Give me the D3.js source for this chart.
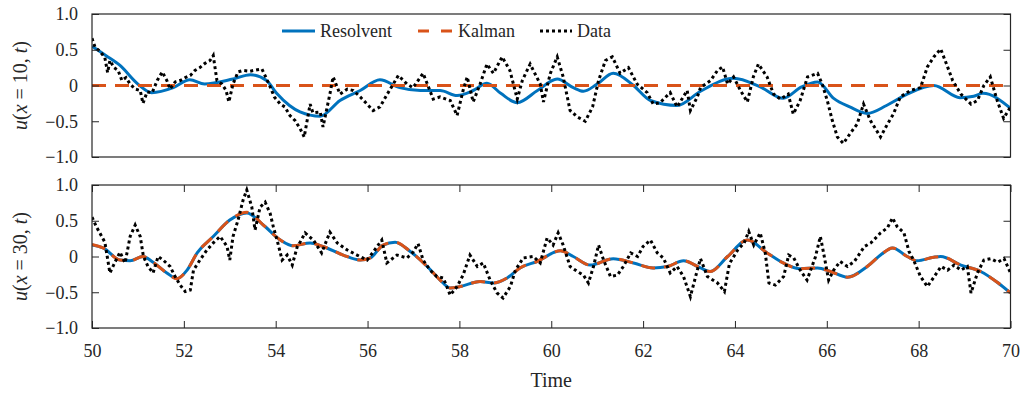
<!DOCTYPE html>
<html>
<head>
<meta charset="utf-8">
<script src="https://cdn.jsdelivr.net/npm/d3@7"></script>
<style>
  body { margin: 0; background: #fff; }
  svg { display: block; font-family: "Liberation Serif", "Times New Roman", serif; }
</style>
</head>
<body>
<script>
// ---- data ----
const xTicks = [50, 52, 54, 56, 58, 60, 62, 64, 66, 68, 70];
const yTicks = [-1, -0.5, 0, 0.5, 1];
const yTickLabels = ["\u22121.0", "\u22120.5", "0", "0.5", "1.0"];

// panel x = 10
const resolvent10 = [
  [50, 0.55], [50.3, 0.42], [50.61, 0.28], [51.0, 0.02], [51.3, -0.1], [51.77, -0.03], [52.13, 0.08],
  [52.45, 0.02], [53.07, 0.09], [53.45, 0.15], [53.8, 0.07], [54.02, -0.11], [54.3, -0.28],
  [54.53, -0.37], [54.97, -0.43], [55.4, -0.21], [55.84, -0.07], [56.27, 0.08], [56.7, -0.03],
  [57.15, -0.07], [57.58, -0.07], [57.95, -0.14], [58.3, -0.07], [58.6, 0.03], [58.9, -0.11],
  [59.26, -0.24], [59.7, -0.07], [60.13, 0.09], [60.48, -0.03], [60.7, -0.08], [61.0, 0.02],
  [61.35, 0.17], [61.79, 0.0], [62.16, -0.21], [62.74, -0.28], [63.25, -0.08], [63.97, 0.1],
  [64.55, -0.02], [65.05, -0.18], [65.45, -0.02], [65.8, 0.05], [66.15, -0.18], [66.5, -0.3],
  [66.88, -0.39], [67.3, -0.28], [67.75, -0.12], [68.33, 0.0], [68.9, -0.17], [69.2, -0.15],
  [69.4, -0.11], [70, -0.32]
];
const kalman10 = [[50, 0], [70, 0]];
const data10 = [
  [50, 0.66], [50.07, 0.53], [50.17, 0.48], [50.28, 0.39], [50.34, 0.18], [50.39, 0.35], [50.48, 0.25],
  [50.57, 0.21], [50.65, 0.07], [50.74, 0.11], [50.83, 0.02], [50.94, -0.05], [51.05, -0.07],
  [51.11, -0.25], [51.2, -0.09], [51.31, -0.1], [51.42, 0.07], [51.53, 0.19], [51.63, 0.07],
  [51.7, -0.05], [51.81, 0.05], [51.92, 0.07], [52.03, 0.11], [52.14, 0.14], [52.24, 0.21],
  [52.35, 0.25], [52.46, 0.31], [52.57, 0.35], [52.64, 0.42], [52.72, 0.07], [52.83, 0.02],
  [52.92, -0.07], [52.98, -0.23], [53.07, 0.02], [53.18, 0.19], [53.29, 0.21], [53.44, 0.2],
  [53.6, 0.22], [53.7, 0.23], [53.79, 0.11], [53.88, -0.02], [53.97, -0.16], [54.1, -0.26],
  [54.2, -0.3], [54.31, -0.42], [54.42, -0.49], [54.53, -0.6], [54.62, -0.72], [54.75, -0.26],
  [54.81, -0.38], [54.97, -0.37], [55.03, -0.58], [55.18, -0.12], [55.25, 0.12], [55.4, -0.12],
  [55.56, -0.05], [55.69, -0.07], [55.84, -0.16], [55.99, -0.26], [56.12, -0.35], [56.27, -0.3],
  [56.43, -0.12], [56.56, 0.02], [56.67, 0.14], [56.86, 0.02], [56.99, -0.03], [57.21, 0.17],
  [57.43, -0.19], [57.58, -0.16], [57.8, -0.21], [57.95, -0.42], [58.08, -0.07], [58.17, 0.12],
  [58.3, -0.23], [58.45, 0.02], [58.6, 0.3], [58.74, 0.17], [58.93, 0.4], [59.1, 0.21],
  [59.26, -0.19], [59.37, 0.07], [59.54, 0.3], [59.76, 0.02], [59.83, -0.23], [59.98, 0.17],
  [60.13, 0.4], [60.26, 0.12], [60.41, -0.35], [60.57, -0.44], [60.74, -0.5], [60.9, -0.3],
  [61.03, 0.07], [61.18, 0.35], [61.33, 0.4], [61.5, 0.17], [61.68, 0.25], [61.87, 0.02],
  [62.09, -0.1], [62.22, -0.26], [62.37, -0.24], [62.59, -0.1], [62.74, -0.3], [62.96, -0.07],
  [63.03, -0.35], [63.18, -0.16], [63.25, -0.03], [63.47, 0.07], [63.62, 0.21], [63.73, 0.26],
  [63.84, 0.02], [63.97, 0.12], [64.12, -0.07], [64.27, -0.23], [64.4, 0.12], [64.51, 0.3],
  [64.7, 0.12], [64.84, -0.12], [64.99, -0.19], [65.16, -0.12], [65.27, -0.4], [65.42, -0.21],
  [65.58, 0.12], [65.8, 0.17], [65.9, 0.02], [66.01, -0.21], [66.12, -0.49], [66.23, -0.72],
  [66.36, -0.81], [66.51, -0.67], [66.66, -0.54], [66.8, -0.26], [66.95, -0.49], [67.17, -0.72],
  [67.32, -0.54], [67.45, -0.4], [67.6, -0.16], [67.82, -0.07], [68.04, -0.03], [68.19, 0.26],
  [68.33, 0.4], [68.48, 0.51], [68.63, 0.26], [68.74, 0.07], [68.92, -0.12], [69.14, -0.26],
  [69.28, -0.21], [69.42, 0.0], [69.56, 0.12], [69.71, -0.21], [69.85, -0.46], [70, -0.3]
];

// panel x = 30
const resolvent30 = [
  [50, 0.16], [50.24, 0.12], [50.61, -0.05], [50.83, -0.06], [51.11, 0.0], [51.33, -0.08],
  [51.63, -0.23], [51.85, -0.31], [52.07, -0.19], [52.29, 0.05], [52.64, 0.28], [53.0, 0.51],
  [53.37, 0.61], [53.73, 0.44], [54.1, 0.23], [54.38, 0.15], [54.75, 0.19], [55.03, 0.14],
  [55.47, 0.02], [55.84, -0.05], [56.06, -0.02], [56.34, 0.16], [56.6, 0.2], [56.93, 0.07],
  [57.3, -0.14], [57.58, -0.33], [57.8, -0.44], [58.02, -0.42], [58.45, -0.35], [58.74, -0.37],
  [59.04, -0.3], [59.32, -0.16], [59.69, -0.07], [60.2, 0.08], [60.48, 0.0], [60.85, -0.12],
  [61.35, -0.03], [61.79, -0.09], [62.22, -0.16], [62.53, -0.14], [62.88, -0.06], [63.25, -0.16],
  [63.46, -0.21], [63.84, 0.0], [64.27, 0.23], [64.7, 0.05], [65.05, -0.09], [65.42, -0.17],
  [65.8, -0.16], [66.08, -0.21], [66.45, -0.29], [66.88, -0.14], [67.17, 0.02], [67.43, 0.12],
  [67.75, 0.0], [67.97, -0.06], [68.33, -0.01], [68.48, 0.0], [68.92, -0.12], [69.35, -0.21],
  [69.71, -0.36], [70, -0.51]
];
const kalman30 = [
  [50, 0.17], [50.24, 0.12], [50.61, -0.05], [50.83, -0.06], [51.11, 0.0], [51.33, -0.08],
  [51.63, -0.23], [51.85, -0.31], [52.07, -0.19], [52.29, 0.05], [52.64, 0.28], [53.0, 0.51],
  [53.37, 0.62], [53.73, 0.44], [54.1, 0.23], [54.38, 0.15], [54.75, 0.19], [55.03, 0.14],
  [55.47, 0.02], [55.84, -0.05], [56.06, -0.02], [56.34, 0.16], [56.6, 0.2], [56.93, 0.07],
  [57.3, -0.14], [57.58, -0.33], [57.8, -0.44], [58.02, -0.42], [58.45, -0.35], [58.74, -0.37],
  [59.04, -0.3], [59.32, -0.16], [59.69, -0.07], [60.2, 0.08], [60.48, 0.0], [60.85, -0.12],
  [61.35, -0.03], [61.79, -0.09], [62.22, -0.16], [62.53, -0.14], [62.88, -0.06], [63.25, -0.16],
  [63.46, -0.21], [63.84, 0.0], [64.27, 0.23], [64.7, 0.05], [65.05, -0.09], [65.42, -0.17],
  [65.8, -0.16], [66.08, -0.21], [66.45, -0.29], [66.88, -0.14], [67.17, 0.02], [67.43, 0.12],
  [67.75, 0.0], [67.97, -0.06], [68.33, -0.01], [68.48, 0.0], [68.92, -0.12], [69.35, -0.21],
  [69.71, -0.36], [70, -0.51]
];
const data30 = [
  [50, 0.55], [50.1, 0.41], [50.17, 0.33], [50.28, 0.2], [50.39, -0.23], [50.5, -0.08], [50.61, 0.06],
  [50.72, -0.09], [50.83, 0.28], [50.94, 0.44], [51.05, 0.28], [51.12, 0.0], [51.22, -0.14],
  [51.33, -0.23], [51.44, 0.0], [51.55, -0.05], [51.7, -0.14], [51.81, -0.28], [51.92, -0.4],
  [52.03, -0.49], [52.14, -0.47], [52.21, -0.19], [52.35, -0.05], [52.5, 0.09], [52.64, 0.19],
  [52.79, 0.28], [52.94, 0.14], [53.0, -0.05], [53.07, 0.28], [53.18, 0.51], [53.29, 0.79],
  [53.37, 0.93], [53.48, 0.69], [53.55, 0.37], [53.66, 0.69], [53.77, 0.76], [53.88, 0.6],
  [53.95, 0.41], [54.03, 0.23], [54.14, -0.05], [54.25, 0.02], [54.36, -0.12], [54.47, 0.14],
  [54.53, 0.2], [54.64, 0.33], [54.82, 0.23], [55.0, 0.05], [55.18, 0.34], [55.34, 0.19],
  [55.56, 0.09], [55.77, 0.02], [55.99, -0.05], [56.12, 0.06], [56.31, 0.23], [56.42, -0.09],
  [56.64, 0.02], [56.86, -0.02], [56.99, 0.06], [57.1, 0.18], [57.21, -0.05], [57.36, -0.19],
  [57.51, -0.28], [57.65, -0.3], [57.8, -0.54], [57.95, -0.42], [58.08, -0.26], [58.23, 0.02],
  [58.39, -0.14], [58.52, -0.09], [58.67, -0.33], [58.82, -0.51], [58.95, -0.58], [59.11, -0.42],
  [59.22, -0.19], [59.39, -0.02], [59.61, 0.0], [59.76, -0.09], [59.91, 0.26], [60.04, 0.16],
  [60.15, 0.33], [60.26, 0.16], [60.41, -0.14], [60.57, -0.21], [60.7, -0.26], [60.81, -0.37],
  [60.92, -0.14], [61.03, 0.16], [61.14, -0.05], [61.29, -0.28], [61.44, -0.26], [61.57, -0.14],
  [61.73, 0.05], [61.88, 0.0], [62.0, 0.14], [62.16, 0.23], [62.31, 0.05], [62.44, -0.02],
  [62.59, -0.23], [62.74, -0.14], [62.88, -0.28], [63.03, -0.56], [63.18, -0.19], [63.25, -0.03],
  [63.4, -0.28], [63.62, -0.37], [63.77, -0.49], [63.88, -0.1], [64.06, 0.09], [64.2, 0.19],
  [64.3, 0.35], [64.41, 0.16], [64.55, 0.33], [64.66, 0.05], [64.74, -0.37], [64.88, -0.4],
  [65.06, -0.28], [65.17, 0.02], [65.28, -0.02], [65.42, -0.19], [65.57, -0.33], [65.75, -0.01],
  [65.86, 0.28], [65.93, 0.05], [66.04, -0.33], [66.15, -0.19], [66.29, -0.07], [66.45, -0.14],
  [66.6, -0.07], [66.82, 0.14], [66.96, 0.19], [67.17, 0.33], [67.32, 0.4], [67.43, 0.54],
  [67.53, 0.42], [67.68, 0.33], [67.79, 0.07], [67.89, -0.05], [68.04, -0.28], [68.19, -0.42],
  [68.34, -0.28], [68.49, -0.14], [68.63, -0.19], [68.77, -0.12], [68.92, -0.19], [69.06, -0.14],
  [69.14, -0.51], [69.28, -0.23], [69.42, -0.05], [69.57, -0.03], [69.72, -0.08], [69.86, -0.03],
  [70, -0.23]
];

const options = {
  width: 1024,
  height: 395,
  left: 92,
  right: 1010.5,
};

const colors = { resolvent: "#0072BD", kalman: "#D95319", data: "#000" };

const svg = d3.select("body")
  .append("svg")
  .attr("width", options.width)
  .attr("height", options.height);

const x = d3.scaleLinear().domain([50, 70]).range([options.left, options.right]);

const panels = [
  { top: 14, bottom: 157, label: "10", res: resolvent10, kal: kalman10, dat: data10, xticks: false },
  { top: 185, bottom: 328, label: "30", res: resolvent30, kal: kalman30, dat: data30, xticks: true },
];

panels.forEach((p, pi) => {
  const y = d3.scaleLinear().domain([-1, 1]).range([p.bottom, p.top]);
  const g = svg.append("g");

  g.append("clipPath").attr("id", "clip" + pi)
    .append("rect")
    .attr("x", options.left).attr("y", p.top)
    .attr("width", options.right - options.left).attr("height", p.bottom - p.top);

  const smooth = d3.line().x(d => x(d[0])).y(d => y(d[1])).curve(d3.curveMonotoneX);
  const raw = d3.line().x(d => x(d[0])).y(d => y(d[1]));

  const plot = g.append("g").attr("clip-path", `url(#clip${pi})`);

  plot.append("path").datum(p.res)
    .attr("d", smooth)
    .attr("fill", "none").attr("stroke", colors.resolvent).attr("stroke-width", 3);

  plot.append("path").datum(p.kal)
    .attr("d", smooth)
    .attr("fill", "none").attr("stroke", colors.kalman).attr("stroke-width", 3)
    .attr("stroke-dasharray", "14,9");

  plot.append("path").datum(p.dat)
    .attr("d", raw)
    .attr("fill", "none").attr("stroke", colors.data).attr("stroke-width", 3)
    .attr("stroke-dasharray", "3,3");

  // left axis, ticks inside
  const yl = g.append("g").attr("transform", `translate(${options.left},0)`)
    .call(d3.axisLeft(y).tickValues(yTicks).tickSize(-7).tickPadding(14)
      .tickFormat((d, i) => yTickLabels[i]));
  const yr = g.append("g").attr("transform", `translate(${options.right},0)`)
    .call(d3.axisRight(y).tickValues(yTicks).tickSize(-7).tickFormat(""));
  [yl, yr].forEach(a => {
    a.select(".domain").remove();
    a.selectAll(".tick line").attr("stroke", "#262626");
    a.selectAll("text").attr("font-size", 18).attr("fill", "#262626")
      .attr("font-family", "Liberation Serif");
  });

  if (p.xticks) {
    const xb = g.append("g").attr("transform", `translate(0,${p.bottom})`)
      .call(d3.axisBottom(x).tickValues(xTicks).tickSize(-7).tickPadding(16));
    const xt = g.append("g").attr("transform", `translate(0,${p.top})`)
      .call(d3.axisTop(x).tickValues(xTicks).tickSize(-7).tickFormat(""));
    [xb, xt].forEach(a => {
      a.select(".domain").remove();
      a.selectAll(".tick line").attr("stroke", "#262626");
      a.selectAll("text").attr("font-size", 18).attr("fill", "#262626")
        .attr("font-family", "Liberation Serif");
    });
  }

  // frame
  g.append("rect")
    .attr("x", options.left).attr("y", p.top)
    .attr("width", options.right - options.left).attr("height", p.bottom - p.top)
    .attr("fill", "none").attr("stroke", "#262626").attr("stroke-width", 1.2);

  // y label
  const yc = (p.top + p.bottom) / 2;
  const lab = g.append("text")
    .attr("transform", `translate(27,${yc}) rotate(-90)`)
    .attr("text-anchor", "middle")
    .attr("font-size", 20)
    .attr("fill", "#262626");
  lab.append("tspan").attr("font-style", "italic").text("u");
  lab.append("tspan").text("(");
  lab.append("tspan").attr("font-style", "italic").text("x");
  lab.append("tspan").text(` = ${p.label}, `);
  lab.append("tspan").attr("font-style", "italic").text("t");
  lab.append("tspan").text(")");
});

// x label
svg.append("text")
  .attr("x", (options.left + options.right) / 2)
  .attr("y", 387)
  .attr("text-anchor", "middle")
  .attr("font-size", 20)
  .attr("fill", "#262626")
  .text("Time");

// legend
const legendItems = [
  { name: "Resolvent", x0: 282, x1: 315, tx: 320, color: colors.resolvent, dash: null },
  { name: "Kalman", x0: 418, x1: 452, tx: 458, color: colors.kalman, dash: "11,12" },
  { name: "Data", x0: 540, x1: 572, tx: 577, color: colors.data, dash: "3,3" },
];
const legend = svg.append("g");
legendItems.forEach(it => {
  legend.append("line")
    .attr("x1", it.x0).attr("x2", it.x1).attr("y1", 31).attr("y2", 31)
    .attr("stroke", it.color).attr("stroke-width", 3)
    .attr("stroke-dasharray", it.dash);
  legend.append("text")
    .attr("x", it.tx).attr("y", 37)
    .attr("font-size", 18).attr("fill", "#262626")
    .text(it.name);
});
</script>
</body>
</html>
